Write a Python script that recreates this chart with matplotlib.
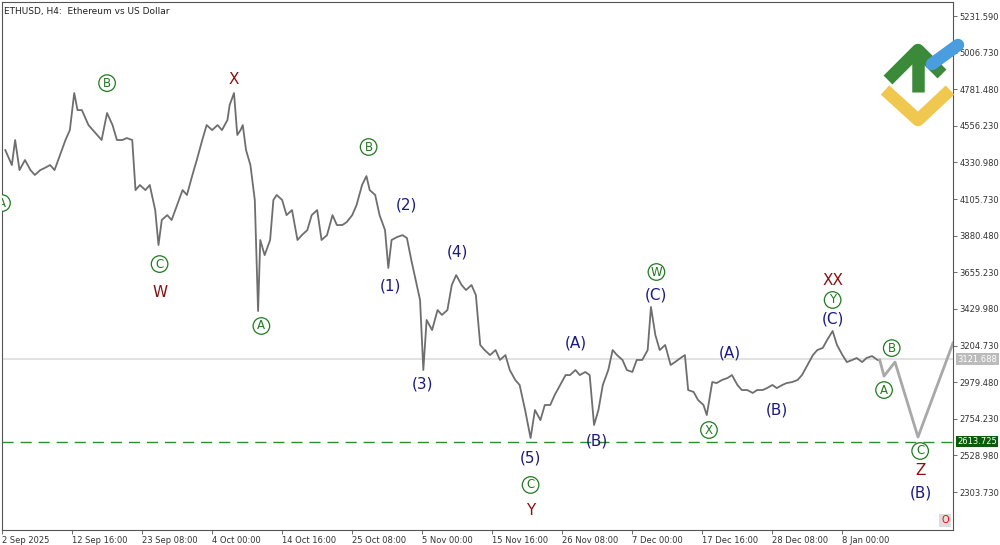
import matplotlib
matplotlib.use("Agg")
import matplotlib.pyplot as plt

bars = [3,9,12,16,21,26,30,35,39,44,48,53,58,62,66,69,73,79,83,87,91,96,101,105,110,114,119,122,126,131,135,140,143,146,151,155,160,165,169,174,178,183,187,192,197,201,206,208,212,215,218,220,223,227,231,234,236,240,245,248,251,256,260,265,270,274,279,283,288,292,297,302,306,311,315,320,324,329,333,336,341,345,350,353,356,361,366,370,374,377,382,385,388,393,398,402,407,411,415,420,424,429,433,437,441,446,451,455,460,464,469,473,478,483,487,492,496,501,505,510,515,519,524,528,533,537,541,545,549,554,558,562,567,571,576,580,585,590,593,597,601,606,611,615,620,624,627,632,636,641,644,649,653,658,663,667,672,676,681,686,690,695,699,704,708,713,717,722,727,731,736,741,745,750,754,759,763,768,772,777,781,786,790,795,800,802]
prices = [4407,4315,4469,4284,4346,4284,4254,4284,4297,4315,4284,4377,4469,4530,4758,4653,4653,4561,4530,4500,4469,4635,4561,4469,4469,4481,4469,4161,4192,4161,4192,4038,3823,3977,4007,3977,4069,4161,4131,4254,4346,4469,4561,4530,4561,4530,4592,4684,4758,4500,4530,4561,4407,4315,4100,3417,3854,3761,3854,4100,4131,4100,4007,4038,3854,3884,3915,4007,4038,3854,3884,4007,3946,3946,3964,4007,4069,4192,4247,4161,4131,4007,3915,3682,3854,3872,3884,3866,3731,3638,3485,3054,3362,3300,3423,3393,3423,3577,3638,3577,3546,3577,3515,3208,3177,3146,3177,3116,3146,3054,2993,2962,2808,2636,2808,2746,2839,2839,2900,2962,3023,3023,3054,3023,3042,3023,2716,2808,2962,3054,3177,3146,3116,3054,3042,3116,3116,3177,3442,3270,3177,3208,3085,3103,3128,3146,2931,2919,2870,2839,2777,2980,2974,2993,3005,3023,2962,2931,2931,2913,2931,2931,2943,2962,2943,2962,2974,2980,2993,3023,3085,3146,3177,3190,3239,3294,3208,3146,3103,3116,3128,3103,3128,3140,3116,3116]
fc_bars = [802, 806, 816, 837, 869]
fc_prices = [3116, 3017, 3103, 2642, 3220]

last_price = 3121.688
target_price = 2613.725
yticks = [2303.730, 2528.980, 2754.230, 2979.480, 3204.730, 3429.980, 3655.230, 3880.480,
          4105.730, 4330.980, 4556.230, 4781.480, 5006.730, 5231.590]
xtick_bars = [0, 64, 128, 192, 256, 320, 384, 448, 512, 576, 640, 704, 768]
xtick_labels = ["2 Sep 2025", "12 Sep 16:00", "23 Sep 08:00", "4 Oct 00:00", "14 Oct 16:00",
                "25 Oct 08:00", "5 Nov 00:00", "15 Nov 16:00", "26 Nov 08:00", "7 Dec 00:00",
                "17 Dec 16:00", "28 Dec 08:00", "8 Jan 00:00"]

GREEN, BLUE, RED = "#1f7a1f", "#1a1a80", "#8b1010"
# circled labels: (letter, bar, price); plain labels: (text, bar, price, color)
circled = [
    ("B", 96, 4819), ("C", 144, 3706), ("A", 0, 4081), ("B", 335, 4426), ("A", 237, 3325),
    ("C", 483, 2347), ("W", 598, 3657), ("X", 646, 2685), ("Y", 759, 3485), ("B", 813, 3189),
    ("A", 806, 2931), ("C", 839, 2556),
]
plain = [
    ("X", 212, 4844, RED), ("W", 144, 3534, RED), ("(2)", 370, 4069, BLUE), ("(4)", 416, 3780, BLUE),
    ("(1)", 355, 3571, BLUE), ("(3)", 384, 2968, BLUE), ("(5)", 483, 2513, BLUE), ("Y", 483, 2187, RED),
    ("(A)", 524, 3220, BLUE), ("(B)", 544, 2617, BLUE), ("(C)", 598, 3515, BLUE), ("(A)", 665, 3159, BLUE),
    ("(B)", 708, 2808, BLUE), ("XX", 759, 3602, RED), ("(C)", 759, 3368, BLUE), ("Z", 839, 2433, RED),
    ("(B)", 840, 2297, BLUE),
]

fig = plt.figure(figsize=(10, 5.45), dpi=100)
ax = fig.add_axes([0.002, 1 - 530/545, 0.951, 528/545])
ax.set_xlim(0, 869)
ax.set_ylim(2070, 5318)

ax.axhline(last_price, color="#dddddd", lw=1.2, zorder=1)
ax.axhline(target_price, color="#2e8b2e", lw=1, ls=(0, (8, 5)), zorder=1)
ax.plot(bars, prices, color="#6e6e6e", lw=1.3, zorder=3)
ax.plot(fc_bars, fc_prices, color="#a8a8a8", lw=2, zorder=3)

for t, x, y in circled:
    ax.text(x, y, t, color=GREEN, fontsize=8.5, ha="center", va="center", zorder=5, clip_on=True,
            bbox=dict(boxstyle="circle,pad=0.15", fc="white", ec=GREEN, lw=0.9))
for t, x, y, c in plain:
    ax.text(x, y, t, color=c, fontsize=11, ha="center", va="center", zorder=5, clip_on=True)

ax.yaxis.tick_right()
ax.set_yticks(yticks)
ax.set_yticklabels([f"{v:.3f}" for v in yticks], fontsize=6, color="#333333")
ax.set_xticks(xtick_bars)
ax.set_xticklabels(xtick_labels, fontsize=6, color="#333333", ha="left")
ax.tick_params(axis="both", length=3, width=0.6, color="#555555", pad=1.5)
for s in ax.spines.values():
    s.set_color("#555555"); s.set_linewidth(0.8)

ax.text(873, last_price, "3121.688", fontsize=6, color="white", va="center", ha="left",
        bbox=dict(boxstyle="square,pad=0.15", fc="#bbbbbb", ec="none"), clip_on=False, zorder=6)
ax.text(873, target_price, "2613.725", fontsize=6, color="white", va="center", ha="left",
        bbox=dict(boxstyle="square,pad=0.15", fc="#0a5c0a", ec="none"), clip_on=False, zorder=6)

fig.text(0.004, 0.987, "ETHUSD, H4:  Ethereum vs US Dollar", fontsize=6.5, color="#222222", va="top")
fig.text(0.945, 0.045, "O", color="red", fontsize=7, ha="center", va="center",
         bbox=dict(boxstyle="square,pad=0.2", fc="#dddddd", ec="none"))

lax = fig.add_axes([0, 0, 1, 1], facecolor="none")
lax.set_xlim(0, 1000); lax.set_ylim(545, 0); lax.axis("off")
lax.plot([888, 918, 942], [80, 50, 74], color="#3a8a3a", lw=9, solid_capstyle="butt")
lax.plot([918, 918], [50, 92], color="#3a8a3a", lw=9, solid_capstyle="butt")
lax.plot([885, 918, 950], [90, 120, 90], color="#f0c850", lw=9, solid_capstyle="butt")
lax.plot([932, 958], [64, 45], color="#4a9ee0", lw=9, solid_capstyle="round")

fig.savefig("out.png", dpi=100, facecolor="white")
